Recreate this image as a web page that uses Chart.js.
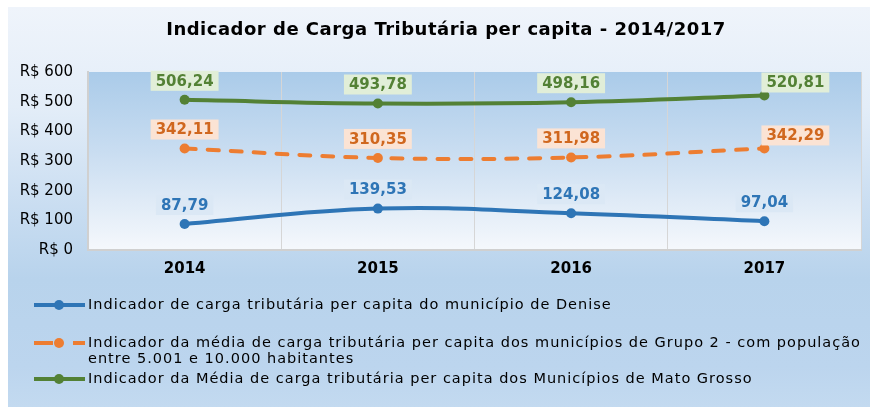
<!DOCTYPE html>
<html>
<head>
<meta charset="utf-8">
<script src="https://cdn.jsdelivr.net/npm/chart.js@4"></script>
<style>
  body { margin: 0; background: #fff; }
  #painel {
    position: absolute; left: 8px; top: 7px; width: 862px; height: 400px;
    background: linear-gradient(to bottom, #eff4fb 0%, #e3edf8 25%, #c9ddf1 50%, #b8d3ec 68%, #bcd5ee 90%, #c3daf0 100%);
  }
</style>
</head>
<body>
<div id="painel"><canvas id="grafico" width="862" height="400"></canvas></div>
<script>
// dados
const anos = ['2014', '2015', '2016', '2017'];
const denise = [87.79, 139.53, 124.08, 97.04];
const grupo2 = [342.11, 310.35, 311.98, 342.29];
const matoGrosso = [506.24, 493.78, 498.16, 520.81];

const titulo = 'Indicador de Carga Tributária per capita - 2014/2017';
const legendaDenise = 'Indicador de carga tributária per capita do município de Denise';
const legendaGrupo2 = 'Indicador da média de carga tributária per capita dos municípios de Grupo 2 - com população\nentre 5.001 e 10.000 habitantes';
const legendaMT = 'Indicador da Média de carga tributária per capita dos Municípios de Mato Grosso';

const FONTE = '"DejaVu Sans", sans-serif';

// formata 87.79 -> "87,79"
function formatVal(v) {
    return v.toFixed(2).replace('.', ',');
}

// fundo degradê da área de plotagem
const fundoPlot = {
    id: 'fundoPlot',
    beforeDraw(chart) {
        const { ctx, chartArea: a } = chart;
        const g = ctx.createLinearGradient(0, a.top, 0, a.bottom);
        g.addColorStop(0, '#aacbe9');
        g.addColorStop(0.45, '#c9ddf1');
        g.addColorStop(1, '#f5f8fc');
        ctx.save();
        ctx.fillStyle = g;
        ctx.fillRect(a.left, a.top, a.right - a.left, a.bottom - a.top);
        ctx.restore();
    }
};

// rótulos de dados com caixa colorida
const rotulos = {
    id: 'rotulos',
    afterDatasetsDraw(chart) {
        const ctx = chart.ctx;
        ctx.save();
        ctx.font = 'bold 15px ' + FONTE;
        ctx.textAlign = 'center';
        ctx.textBaseline = 'middle';
        chart.data.datasets.forEach((ds, di) => {
            const meta = chart.getDatasetMeta(di);
            meta.data.forEach((pt, i) => {
                const txt = formatVal(ds.data[i]);
                let x = pt.x, y = pt.y - 19;
                // no último ano os rótulos de cima ficam deslocados para a direita
                if (i === ds.data.length - 1 && di > 0) { x += 31; y = pt.y - 13; }
                const w = ctx.measureText(txt).width + 10;
                ctx.fillStyle = ds.caixa;
                ctx.fillRect(x - w / 2, y - 10, w, 20);
                ctx.fillStyle = ds.corTexto;
                ctx.fillText(txt, x, y + 1);
            });
        });
        ctx.restore();
    }
};

// título e legenda desenhados à mão (a legenda tem item em duas linhas)
const tituloLegenda = {
    id: 'tituloLegenda',
    afterDraw(chart) {
        const ctx = chart.ctx;
        ctx.save();
        ctx.fillStyle = '#000';
        ctx.font = 'bold 18px ' + FONTE;
        ctx.letterSpacing = '0.5px';
        ctx.textAlign = 'center';
        ctx.textBaseline = 'middle';
        ctx.fillText(titulo, 438, 23);

        const posY = [298, 336, 372];
        ctx.font = '14.5px ' + FONTE;
        ctx.letterSpacing = '1px';
        ctx.textAlign = 'left';
        chart.data.datasets.forEach((ds, di) => {
            const y = posY[di];
            ctx.strokeStyle = ds.borderColor;
            ctx.lineWidth = 4;
            ctx.lineCap = 'butt';
            ctx.setLineDash(ds.borderDash ? [19, 20, 12] : []);
            ctx.beginPath();
            ctx.moveTo(26, y);
            ctx.lineTo(77, y);
            ctx.stroke();
            ctx.setLineDash([]);
            ctx.fillStyle = ds.borderColor;
            ctx.beginPath();
            ctx.arc(51, y, 5, 0, Math.PI * 2);
            ctx.fill();
            ctx.fillStyle = '#000';
            ds.label.split('\n').forEach((linha, k) => {
                ctx.fillText(linha, 80, y + k * 16);
            });
        });
        ctx.restore();
    }
};

function serie(label, data, cor, caixa, corTexto, dash) {
    return {
        label, data,
        borderColor: cor,
        backgroundColor: cor,
        borderWidth: 4,
        borderDash: dash,
        borderCapStyle: 'round',
        pointRadius: 5,
        pointHoverRadius: 5,
        pointBackgroundColor: cor,
        pointBorderWidth: 0,
        tension: 0.4,
        caixa, corTexto
    };
}

new Chart(document.getElementById('grafico'), {
    type: 'line',
    data: {
        labels: anos,
        datasets: [
            serie(legendaDenise, denise, '#2e75b6', '#dbe8f5', '#2e75b6', undefined),
            serie(legendaGrupo2, grupo2, '#ed7d31', '#fbe3d4', '#d0671e', [11, 12]),
            serie(legendaMT, matoGrosso, '#538135', '#e1eed8', '#538135', undefined)
        ]
    },
    options: {
        responsive: false,
        animation: false,
        layout: { padding: { top: 65, right: 9, bottom: 117, left: 0 } },
        plugins: {
            legend: { display: false },
            title: { display: false },
            tooltip: { enabled: false }
        },
        scales: {
            x: {
                offset: true,
                grid: { offset: true, color: '#d6d6d6', lineWidth: 1, drawTicks: false },
                border: { color: '#d0d0d0', width: 2 },
                ticks: { color: '#000', font: { family: FONTE, size: 15, weight: 'bold' }, padding: 10 },
                afterFit(s) { s.height = 40; }
            },
            y: {
                min: 0, max: 600,
                grid: { display: false, drawTicks: false },
                border: { color: '#d0d0d0', width: 2 },
                ticks: {
                    stepSize: 100,
                    color: '#000',
                    font: { family: FONTE, size: 15 },
                    padding: 15,
                    callback: v => 'R$ ' + v
                },
                afterFit(s) { s.width = 80; }
            }
        }
    },
    plugins: [fundoPlot, rotulos, tituloLegenda]
});
</script>
</body>
</html>
